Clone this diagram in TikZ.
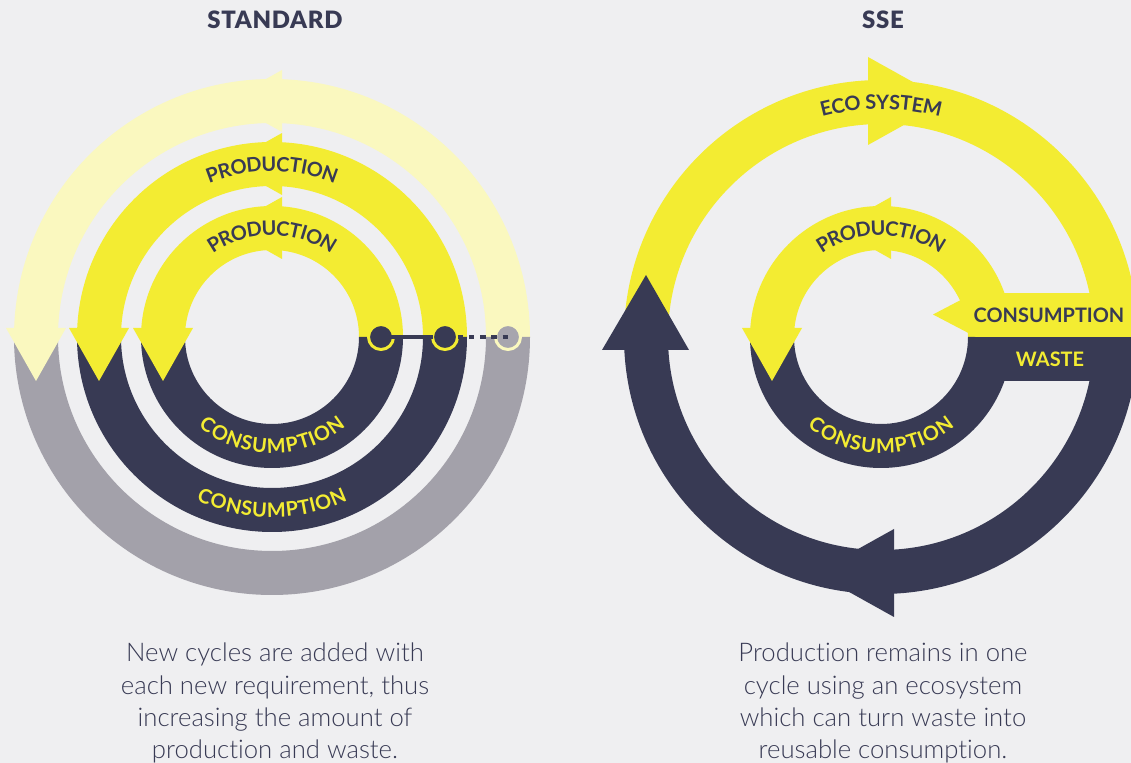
\documentclass[tikz,border=0pt]{standalone}
\usepackage{fontspec}
\usetikzlibrary{decorations.text}
\newfontfamily\lightfont{Lato Light}[Ligatures=NoCommon]
\newfontfamily\boldfont{Lato Bold}
\newfontfamily\blackfont{Lato Black}[LetterSpace=3]
\definecolor{bg}{HTML}{EFEFF1}
\definecolor{yel}{HTML}{F3EC32}
\definecolor{pale}{HTML}{FAF8BF}
\definecolor{navy}{HTML}{383A54}
\definecolor{greyband}{HTML}{A3A1AA}
\definecolor{greydot}{HTML}{A7A5AE}
\newcommand\lbl{\boldfont\fontsize{20}{24}\selectfont}
% annulus sector: colour, start angle, end angle, inner r, outer r
\newcommand\annsec[5]{\fill[#1] (#2:#5) arc[start angle=#2,end angle=#3,radius=#5] -- (#3:#4) arc[start angle=#3,end angle=#2,radius=#4] -- cycle;}
% small arrow marker at the top of a ring: colour, inner r, outer r, mid r
\newcommand\ringmark[4]{\fill[#1] (10,{#3+9}) -- (10,{#2-9}) -- (-45,#4) -- cycle;}
% downward arrowhead at the left end of a ring: colour, mid r
\newcommand\lefthead[2]{\fill[#1] ({-#2-30},9) -- ({-#2+30},9) -- (-#2,-44) -- cycle;}
\tikzset{
  arclabel/.style 2 args={decorate, decoration={text along path, text align=center, raise=-7.2bp, text color=#1, text={|\lbl|#2}}},
  dot/.style={circle, inner sep=0pt, outer sep=0pt, minimum size=25bp, line width=3bp, fill=navy, draw=yel},
  greyball/.style={dot, fill=greydot, draw=pale},
  heading/.style={font=\blackfont\fontsize{24}{28}\selectfont, text=navy, anchor=base},
  body/.style={font=\lightfont\fontsize{25.8}{32.3}\selectfont, text=navy, align=center, anchor=base},
  flat/.style={font=\lbl, inner sep=0pt}
}
\begin{document}
\begin{tikzpicture}[x=1bp,y=1bp]
\fill[bg] (0,0) rectangle (1131,763);
\useasboundingbox (0,0) rectangle (1131,763);
\clip (0,0) rectangle (1131,763);

% ---------------- STANDARD ----------------
\begin{scope}[shift={(272,426)}]
  \annsec{pale}{0}{180}{214}{258}
  \annsec{greyband}{180}{360}{214}{258}
  \annsec{yel}{0}{180}{151}{195}
  \annsec{navy}{180}{360}{151}{195}
  \annsec{yel}{0}{180}{87}{131}
  \annsec{navy}{180}{360}{87}{131}
  \ringmark{pale}{214}{258}{236}
  \ringmark{yel}{151}{195}{173}
  \ringmark{yel}{87}{131}{109}
  \lefthead{pale}{236}
  \lefthead{yel}{173}
  \lefthead{yel}{109}
  \node[dot] (d1) at (109,0) {};
  \node[dot] (d2) at (173,0) {};
  \node[greyball] (d3) at (236,0) {};
  \draw[navy, line width=4.5bp] (d1.center) -- (d2.west);
  \draw[navy, line width=4.5bp, dash pattern=on 5.5bp off 5.8bp] (d2.east) -- (d3.center);
  \path[arclabel={navy}{PRODUCTION}] (140:173) arc[start angle=140,end angle=40,radius=173];
  \path[arclabel={navy}{PRODUCTION}] (150:109) arc[start angle=150,end angle=30,radius=109];
  \path[arclabel={yel}{CONSUMPTION}] (200:109) arc[start angle=200,end angle=340,radius=109];
  \path[arclabel={yel}{CONSUMPTION}] (210:173) arc[start angle=210,end angle=330,radius=173];
\end{scope}

% ---------------- SSE ----------------
\begin{scope}[shift={(881,426)}]
  \annsec{yel}{0}{180}{213}{257}
  \fill[yel] (-13,280) -- (-13,192) -- (66,236) -- cycle;
  \annsec{navy}{180}{360}{213}{257}
  \fill[navy] (13,-280) -- (13,-192) -- (-66,-236) -- cycle;
  \fill[navy] (-279,-13) -- (-192,-13) -- (-235,62) -- cycle;
  \annsec{yel}{0}{180}{87}{131}
  \annsec{navy}{180}{360}{87}{131}
  \ringmark{yel}{87}{131}{109}
  \lefthead{yel}{109}
  \fill[yel] (95,0) rectangle (270,44);
  \fill[yel] (95,0) -- (95,45) -- (52,22.5) -- cycle;
  \fill[navy] (100,-44) rectangle (270,0);
  \path[arclabel={navy}{ECO SYSTEM}] (130:235) arc[start angle=130,end angle=50,radius=235];
  \path[arclabel={navy}{PRODUCTION}] (150:109) arc[start angle=150,end angle=30,radius=109];
  \path[arclabel={yel}{CONSUMPTION}] (200:109) arc[start angle=200,end angle=340,radius=109];
  \node[flat, text=navy] (cons) at (168,22) {CONSUMPTION};
  \node[flat, text=yel] (waste) at (169,-22) {WASTE};
\end{scope}

\node[heading] (h1) at (275,734) {STANDARD};
\node[heading] (h2) at (883,734) {SSE};
\node[body] (t1) at (275,4.5) {New cycles are added with\\each new requirement, thus\\increasing the amount of\\production and waste.};
\node[body] (t2) at (883,4.5) {Production remains in one\\cycle using an ecosystem\\which can turn waste into\\reusable consumption.};
\end{tikzpicture}
\end{document}
